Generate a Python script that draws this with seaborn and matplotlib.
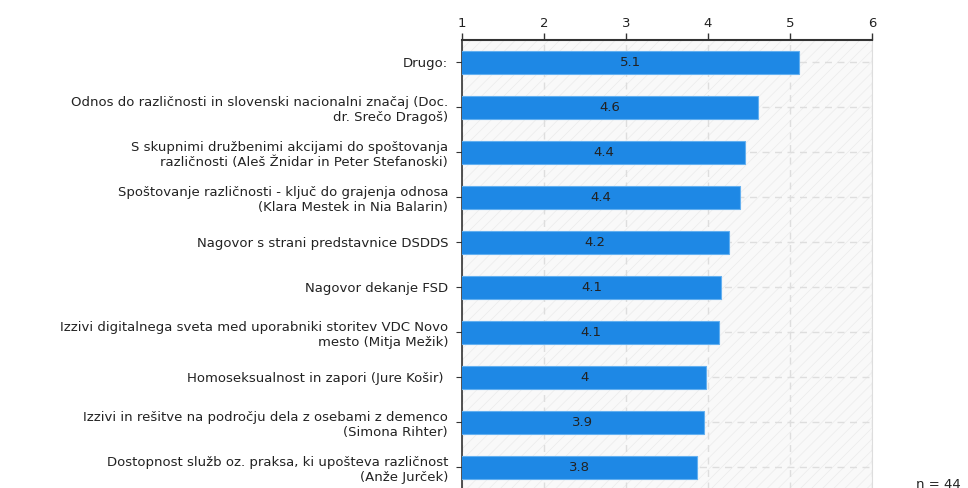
import matplotlib
matplotlib.use("Agg")
import matplotlib.pyplot as plt
import seaborn as sns
import pandas as pd
from matplotlib.patches import Rectangle

# data
categories = [
    "Drugo:",
    "Odnos do različnosti in slovenski nacionalni značaj (Doc.\ndr. Srečo Dragoš)",
    "S skupnimi družbenimi akcijami do spoštovanja\nrazličnosti (Aleš Žnidar in Peter Stefanoski)",
    "Spoštovanje različnosti - ključ do grajenja odnosa\n(Klara Mestek in Nia Balarin)",
    "Nagovor s strani predstavnice DSDDS",
    "Nagovor dekanje FSD",
    "Izzivi digitalnega sveta med uporabniki storitev VDC Novo\nmesto (Mitja Mežik)",
    "Homoseksualnost in zapori (Jure Košir) ",
    "Izzivi in rešitve na področju dela z osebami z demenco\n(Simona Rihter)",
    "Dostopnost služb oz. praksa, ki upošteva različnost\n(Anže Jurček)",
]
values = [5.11, 4.61, 4.45, 4.39, 4.25, 4.16, 4.14, 3.98, 3.95, 3.86]
value_labels = ["5.1", "4.6", "4.4", "4.4", "4.2", "4.1", "4.1", "4", "3.9", "3.8"]
n_text = "n = 44"

df = pd.DataFrame({"cat": categories, "val": values})

sns.set_style("white")
plt.rcParams["font.family"] = ["DejaVu Sans"]
plt.rcParams["hatch.linewidth"] = 0.5

txt_col = "#222222"

fig = plt.figure(figsize=(9.68, 4.88), dpi=100)
ax = fig.add_axes([462 / 968, -2 / 488, 410 / 968, 450 / 488])

# hatched background
ax.set_facecolor("#f9f9f9")
ax.add_patch(Rectangle((0, 0), 1, 1, transform=ax.transAxes, facecolor="none",
                       edgecolor="#ebebeb", hatch="///", linewidth=0, zorder=0))

sns.barplot(data=df, x="val", y="cat", orient="h", color="#1e88e5",
            width=0.5, edgecolor="#64b0f0", linewidth=0.8, saturation=1, ax=ax, zorder=3)

# value labels centred on the visible part of each bar (axis starts at 1)
for i, (v, lab) in enumerate(zip(values, value_labels)):
    ax.text((1 + v) / 2, i, lab, ha="center", va="center", fontsize=9.5,
            color=txt_col, zorder=4)

ax.set_xlim(1, 6)
ax.set_ylim(len(categories) - 0.5, -0.5)
ax.set_xticks([1, 2, 3, 4, 5, 6])
ax.xaxis.tick_top()
ax.tick_params(axis="x", top=True, bottom=False, length=5, width=1, color="#333333",
               labelsize=9.5, labelcolor=txt_col, pad=2)
ax.tick_params(axis="y", left=True, length=4, width=0.8, color="#333333",
               labelsize=9.5, labelcolor=txt_col, pad=6)
ax.set_xlabel("")
ax.set_ylabel("")

ax.grid(True, axis="both", linestyle=(0, (5, 4)), color="#dedede", linewidth=1, zorder=1)
ax.set_axisbelow(True)

ax.spines["bottom"].set_visible(False)
ax.spines["right"].set_color("#dddddd")
ax.spines["top"].set_color("#333333")
ax.spines["top"].set_linewidth(1.5)
ax.spines["left"].set_color("#333333")
ax.spines["left"].set_linewidth(1.2)

fig.text(916 / 968, 1 - 484 / 488, n_text, fontsize=9.5, color=txt_col,
         ha="left", va="center")

fig.savefig("out.png", dpi=100)
